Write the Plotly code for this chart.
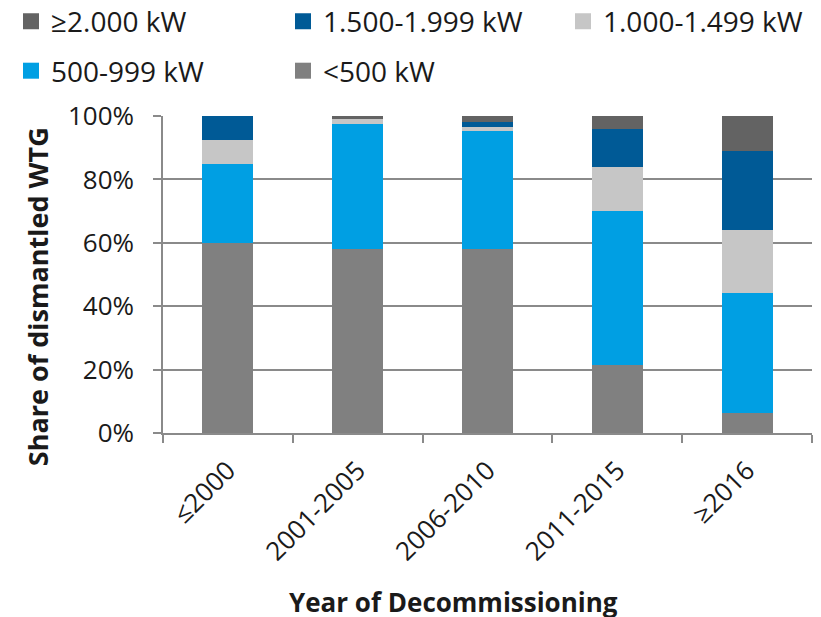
import plotly.graph_objects as go

# Decommissioning periods (x categories)
periods = ["≤2000", "2001-2005", "2006-2010", "2011-2015", "≥2016"]

# Share of dismantled turbines per rated-power class, in % of each period
lt_500 = [60.0, 58.1, 58.0, 21.5, 6.3]
p500_999 = [25.0, 39.4, 37.3, 48.6, 38.0]
p1000_1499 = [7.5, 1.6, 1.2, 13.7, 19.8]
p1500_1999 = [7.5, 0.0, 1.6, 12.0, 25.0]
ge_2000 = [0.0, 0.9, 1.9, 4.2, 10.9]

y_ticks = [0, 20, 40, 60, 80, 100]
y_tick_labels = ["0%", "20%", "40%", "60%", "80%", "100%"]

FONT = "Open Sans"
TXT = "#1a1a1a"
GRID = "#8a8a8a"
COL_PITCH = 276          # legend column pitch in px
ENTRY_W = COL_PITCH - 49  # text width share of an entry (symbol area added by plotly)
LEG_X0 = 11              # legend left edge in px

# power classes: label -> (values, colour)
classes = {
    "<500 kW": (lt_500, "#808080"),
    "500-999 kW": (p500_999, "#009FE3"),
    "1.000-1.499 kW": (p1000_1499, "#C6C6C6"),
    "1.500-1.999 kW": (p1500_1999, "#005A96"),
    "≥2.000 kW": (ge_2000, "#636363"),
}

fig = go.Figure()

# stacked bars, bottom -> top
for name, (vals, color) in classes.items():
    fig.add_trace(go.Bar(
        x=periods, y=vals, name=name, showlegend=False,
        marker=dict(color=color, line=dict(width=0)),
    ))

# legend entries (larger square swatches), in reading order per legend box
legend_layout = [
    ("≥2.000 kW", "legend"),
    ("1.500-1.999 kW", "legend"),
    ("1.000-1.499 kW", "legend3"),
    ("500-999 kW", "legend2"),
    ("<500 kW", "legend2"),
]
for name, leg in legend_layout:
    fig.add_trace(go.Scatter(
        x=[None], y=[None], mode="markers", name=name, legend=leg,
        marker=dict(symbol="square", size=16, color=classes[name][1]),
    ))

legend_common = dict(
    orientation="h", traceorder="normal",
    xref="container", yref="container",
    xanchor="left", yanchor="middle",
    entrywidth=ENTRY_W, entrywidthmode="pixels",
    font=dict(family=FONT, size=28, color=TXT),
    itemwidth=30, bgcolor="rgba(0,0,0,0)",
)
row1_y = 1 - 21.5 / 617
row2_y = 1 - 71 / 617

fig.update_layout(
    width=821, height=617,
    barmode="stack", bargap=0.607,
    plot_bgcolor="white", paper_bgcolor="white",
    margin=dict(l=163, r=9, t=116, b=184, autoexpand=False),
    font=dict(family=FONT, size=26, color=TXT),
    legend=dict(x=LEG_X0 / 821, y=row1_y, **legend_common),
    legend3=dict(x=(LEG_X0 + 2 * COL_PITCH) / 821, y=row1_y, **legend_common),
    legend2=dict(x=LEG_X0 / 821, y=row2_y, **legend_common),
)

fig.update_yaxes(
    range=[0, 100], tickvals=y_ticks, ticktext=y_tick_labels,
    showgrid=True, gridcolor=GRID, gridwidth=1.6,
    showline=True, linecolor=GRID, linewidth=1.6,
    ticks="outside", ticklen=8, tickcolor=GRID, tickwidth=1.6,
    ticklabelstandoff=14,
    zeroline=False,
    tickfont=dict(family=FONT, size=26, color=TXT),
)
fig.update_xaxes(
    tickangle=-45, tickson="boundaries",
    showline=True, linecolor=GRID, linewidth=1.6,
    ticks="outside", ticklen=8, tickcolor=GRID, tickwidth=1.6,
    ticklabelstandoff=10,
    tickfont=dict(family=FONT, size=26, color=TXT),
)

fig.add_annotation(
    text="<b>Share of dismantled WTG</b>", textangle=-90,
    xref="paper", yref="paper", x=(37 - 163) / 648.7, y=(433.5 - 296.5) / 317.5,
    xanchor="center", yanchor="middle", showarrow=False,
    font=dict(family=FONT, size=27, color=TXT),
)
fig.add_annotation(
    text="<b>Year of Decommissioning</b>",
    xref="paper", yref="paper", x=(453 - 163) / 648.7, y=(433.5 - 603) / 317.5,
    xanchor="center", yanchor="middle", showarrow=False,
    font=dict(family=FONT, size=26, color=TXT),
)

fig.write_html("out.html")
